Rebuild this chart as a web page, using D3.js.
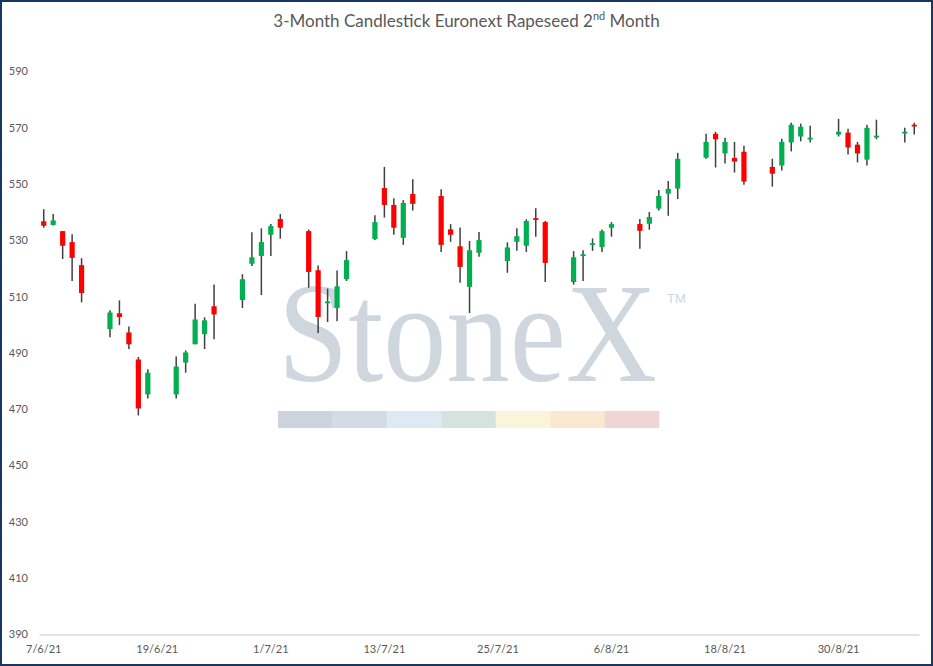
<!DOCTYPE html>
<html><head><meta charset="utf-8">
<script src="https://cdn.jsdelivr.net/npm/d3@7"></script>
<style>body{margin:0;background:#fff}svg{display:block}</style>
</head><body><svg id="c" width="933" height="666"></svg>
<script>
// ---- data ----
const dates = ["2021-06-07","2021-06-08","2021-06-09","2021-06-10","2021-06-11",
"2021-06-14","2021-06-15","2021-06-16","2021-06-17","2021-06-18",
"2021-06-21","2021-06-22","2021-06-23","2021-06-24","2021-06-25",
"2021-06-28","2021-06-29","2021-06-30","2021-07-01","2021-07-02",
"2021-07-05","2021-07-06","2021-07-07","2021-07-08","2021-07-09",
"2021-07-12","2021-07-13","2021-07-14","2021-07-15","2021-07-16",
"2021-07-19","2021-07-20","2021-07-21","2021-07-22","2021-07-23",
"2021-07-26","2021-07-27","2021-07-28","2021-07-29","2021-07-30",
"2021-08-02","2021-08-03","2021-08-04","2021-08-05","2021-08-06",
"2021-08-09","2021-08-10","2021-08-11","2021-08-12","2021-08-13",
"2021-08-16","2021-08-17","2021-08-18","2021-08-19","2021-08-20",
"2021-08-23","2021-08-24","2021-08-25","2021-08-26","2021-08-27",
"2021-08-30","2021-08-31","2021-09-01","2021-09-02","2021-09-03",
"2021-09-06","2021-09-07"];
const open = [536.8,535.5,533.3,529.4,521.2, 498.5,504.1,497.3,487.7,475.3,
475.3,486.6,493.1,496.7,506.6, 508.8,521.7,524.5,532.0,537.6,
533.3,519.4,507.8,506.0,516.2, 530.5,548.6,542.6,530.9,546.5,
545.8,533.9,527.9,513.5,525.6, 522.7,529.5,528.1,537.9,536.5,
515.2,524.5,528.4,527.6,534.5, 535.8,535.9,541.3,546.6,548.4,
559.4,567.9,560.9,559.3,561.5, 556.1,556.6,564.8,566.9,565.9,
567.6,568.3,564.0,558.7,566.6, 568.0,571.1];
const high = [541.1,539.4,533.3,532.2,523.7, 505.2,508.7,499.4,488.6,484.2,
488.8,490.9,507.5,502.7,514.3, 518.0,532.9,534.3,535.8,539.4,
533.9,521.1,512.9,519.3,526.2, 538.9,556.1,545.0,544.3,551.7,
548.2,535.8,534.6,529.8,533.0, 529.3,534.3,537.5,541.4,536.9,
526.2,526.5,530.7,533.9,536.5, 537.6,540.1,547.9,551.1,561.1,
567.9,568.6,566.5,565.0,563.6, 559.0,566.1,571.8,571.5,570.7,
573.2,569.7,565.0,571.1,572.9, 570.0,571.8];
const low = [534.5,535.3,523.4,515.6,508.0, 495.6,499.9,491.4,467.8,473.8,
473.8,483.0,493.1,491.4,494.9, 506.0,520.9,510.6,524.5,530.6,
513.2,497.1,501.0,501.3,515.6, 530.1,538.1,532.0,528.4,540.6,
525.9,529.5,515.0,504.2,524.2, 518.5,526.3,525.9,531.3,515.2,
514.3,515.6,526.3,525.9,531.3, 527.0,533.8,540.6,538.8,544.7,
559.0,555.9,557.3,554.1,549.8, 549.1,554.8,561.6,565.2,564.8,
566.9,560.5,557.7,556.6,565.9, 564.8,567.6];
const close = [535.2,537.1,528.1,523.8,511.3, 504.4,502.8,493.1,470.3,483.0,
485.2,490.2,501.9,501.6,503.7, 516.2,524.0,529.4,535.1,534.5,
518.8,502.8,508.3,513.7,523.0, 536.5,542.6,534.5,543.3,543.0,
528.4,532.0,520.6,526.5,530.1, 527.5,531.5,536.9,537.3,522.0,
524.0,525.1,529.0,533.3,535.8, 533.4,538.3,545.8,548.3,559.0,
565.0,565.9,565.0,558.0,550.9, 553.7,565.0,571.1,570.4,566.5,
568.6,563.0,560.9,570.0,567.2, 568.6,570.5];
const yTicks = [390,410,430,450,470,490,510,530,550,570,590];
const xTickDates = ["2021-06-07","2021-06-19","2021-07-01","2021-07-13","2021-07-25","2021-08-06","2021-08-18","2021-08-30"];
const xTickLabels = ["7/6/21","19/6/21","1/7/21","13/7/21","25/7/21","6/8/21","18/8/21","30/8/21"];
const titleMain = "3-Month Candlestick Euronext Rapeseed 2";
const titleSup = "nd";
const titleEnd = " Month";
const bandColors = ["#cdd3dc","#d3dce5","#dde9f3","#d4e4dc","#faf5da","#fbe8d0","#f0d5d6"];

// ---- layout ----
const svg = d3.select("#c");
const W = 933, H = 666;
const x0 = 39, x1 = 919, yTop = 71.5, yBot = 634.5;
const fmt = d3.timeFormat("%Y-%m-%d");
const parse = d3.timeParse("%Y-%m-%d");
const allDays = d3.timeDay.range(parse(dates[0]), d3.timeDay.offset(parse(dates[dates.length-1]),1)).map(fmt);
const x = d3.scaleBand().domain(allDays).range([x0, x1]).padding(0);
const y = d3.scaleLinear().domain([390, 590]).range([yBot, yTop]);
const font = "Lato, 'Open Sans', sans-serif";

svg.append("rect").attr("width", W).attr("height", H).attr("fill", "#fff");

// watermark
const wm = svg.append("g");
wm.append("text").attr("transform", "translate(278,381) scale(1,1.132)")
  .attr("x", 0).attr("y", 0).attr("fill", "#cfd6de")
  .attr("font-family", "'Liberation Serif', 'DejaVu Serif', serif")
  .attr("font-size", 126)
  .attr("textLength", 379).attr("lengthAdjust", "spacingAndGlyphs")
  .text("StoneX");
wm.append("text").attr("x", 667).attr("y", 303).attr("fill", "#cfd6de")
  .attr("font-family", "'Liberation Sans', sans-serif").attr("font-size", 13)
  .text("TM");
const segW = (659 - 278) / bandColors.length;
wm.selectAll("rect.band").data(bandColors).join("rect")
  .attr("x", (d,i) => 278 + i*segW).attr("y", 411)
  .attr("width", segW + 0.3).attr("height", 17).attr("fill", d => d);

// title
const t = svg.append("text").attr("x", W/2).attr("y", 27).attr("text-anchor", "middle")
  .attr("font-family", font).attr("font-size", 17).attr("fill", "#595959");
t.append("tspan").text(titleMain);
t.append("tspan").attr("font-size", 11).attr("dy", -7).text(titleSup);
t.append("tspan").attr("dy", 7).text(titleEnd);

// y labels
svg.append("g").selectAll("text").data(yTicks).join("text")
  .attr("x", 28).attr("y", d => y(d)).attr("dy", "0.35em")
  .attr("text-anchor", "end").attr("font-family", font).attr("font-size", 11)
  .attr("fill", "#595959").text(d => d);

// x axis
const xAxis = d3.axisBottom(x).tickValues(xTickDates).tickSize(0).tickPadding(11)
  .tickFormat(d => xTickLabels[xTickDates.indexOf(d)]);
const gx = svg.append("g").attr("transform", `translate(0,${yBot})`).call(xAxis);
gx.select(".domain").attr("stroke", "#d9d9d9").attr("stroke-width", 1.5);
gx.selectAll("text").attr("font-family", font).attr("font-size", 11).attr("fill", "#595959");

// candles
const data = dates.map((d,i) => ({d, o: open[i], h: high[i], l: low[i], c: close[i]}));
const bw = x.bandwidth();
const cx = d => x(d.d) + bw/2;
const g = svg.append("g");
g.selectAll("line").data(data).join("line")
  .attr("x1", cx).attr("x2", cx)
  .attr("y1", d => y(d.h)).attr("y2", d => y(d.l))
  .attr("stroke", "#404040").attr("stroke-width", 1.5);
const bodyW = 5.2;
g.selectAll("rect").data(data).join("rect")
  .attr("x", d => cx(d) - bodyW/2).attr("width", bodyW)
  .attr("y", d => y(Math.max(d.o, d.c)))
  .attr("height", d => Math.max(1.8, Math.abs(y(d.o) - y(d.c))))
  .attr("fill", d => d.c >= d.o ? "#00b050" : "#ff0000");

// border
svg.append("rect").attr("x", 1).attr("y", 1).attr("width", W - 2).attr("height", H - 2)
  .attr("fill", "none").attr("stroke", "#17375e").attr("stroke-width", 2);
</script>
</body></html>
